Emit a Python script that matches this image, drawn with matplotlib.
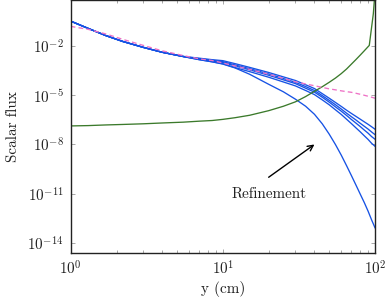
import numpy as np
import matplotlib
matplotlib.use("Agg")
import matplotlib.pyplot as plt

plt.rcParams['mathtext.fontset'] = 'cm'
plt.rcParams['font.family'] = ['cmr10', 'DejaVu Serif']
plt.rcParams['axes.formatter.use_mathtext'] = True

# x positions (cm)
x = [1, 1.3, 1.7, 2.2, 3, 4, 5.5, 7, 8.5, 10, 12, 15, 20, 25, 30, 35, 40, 45, 50, 55, 60,
     65, 70, 75, 80, 85, 90, 95, 100]

# log10 of scalar flux
blue_1 = [-0.48, -0.92, -1.36, -1.72, -2.08, -2.38, -2.64, -2.83, -2.96, -3.10, -3.33, -3.72,
          -4.33, -4.79, -5.24, -5.67, -6.16, -6.74, -7.37, -8.01, -8.65, -9.29, -9.90, -10.48,
          -11.03, -11.54, -12.06, -12.60, -13.08]
blue_2 = [-0.48, -0.92, -1.36, -1.72, -2.08, -2.38, -2.64, -2.83, -2.96, -3.08, -3.31, -3.56,
          -3.90, -4.19, -4.43, -4.71, -4.96, -5.28, -5.58, -5.89, -6.17, -6.46, -6.73, -6.99,
          -7.23, -7.47, -7.69, -7.93, -8.11]
blue_3 = [-0.48, -0.92, -1.36, -1.72, -2.08, -2.38, -2.64, -2.79, -2.91, -3.00, -3.21, -3.45,
          -3.78, -4.06, -4.29, -4.57, -4.81, -5.12, -5.42, -5.71, -5.97, -6.23, -6.48, -6.70,
          -6.91, -7.12, -7.31, -7.52, -7.68]
blue_4 = [-0.48, -0.92, -1.36, -1.72, -2.08, -2.38, -2.64, -2.77, -2.87, -2.95, -3.15, -3.38,
          -3.70, -3.98, -4.21, -4.47, -4.71, -5.02, -5.31, -5.58, -5.84, -6.09, -6.31, -6.51,
          -6.71, -6.89, -7.06, -7.24, -7.40]
blue_5 = [-0.48, -0.92, -1.36, -1.72, -2.08, -2.38, -2.63, -2.74, -2.83, -2.89, -3.07, -3.30,
          -3.61, -3.88, -4.10, -4.36, -4.59, -4.90, -5.18, -5.44, -5.68, -5.91, -6.11, -6.29,
          -6.46, -6.62, -6.77, -6.92, -7.07]
blue_series = [blue_1, blue_2, blue_3, blue_4, blue_5]

pink = [-0.80, -0.98, -1.26, -1.59, -1.96, -2.29, -2.58, -2.78, -2.88, -3.03, -3.21, -3.42,
        -3.72, -3.97, -4.18, -4.31, -4.42, -4.52, -4.61, -4.67, -4.73, -4.78, -4.82, -4.88,
        -4.94, -5.00, -5.06, -5.12, -5.18]

x_green = [1, 1.3, 1.7, 2.2, 3, 4, 5.5, 7, 8.5, 10, 12, 15, 20, 25, 30, 35, 40, 45, 50, 55, 60,
           65, 70, 75, 80, 85, 91.7, 97.5, 100]
green = [-6.87, -6.85, -6.81, -6.78, -6.74, -6.69, -6.64, -6.58, -6.54, -6.47, -6.37, -6.22,
         -5.94, -5.67, -5.40, -5.08, -4.76, -4.48, -4.21, -3.95, -3.68, -3.40, -3.10, -2.82,
         -2.55, -2.29, -1.96, -0.03, 1.3]

BLUE = '#1652e4'
PINK = '#ee72c6'
GREEN = '#3b7a2b'

fig = plt.figure(figsize=(3.9, 3.03), dpi=100)
ax = fig.add_axes([70.7 / 390, 1 - 252.7 / 303, (375 - 70.7) / 390, 252.7 / 303 - 0.001])

for s in blue_series:
    ax.plot(x, 10 ** np.array(s), color=BLUE, lw=0.95)
ax.plot(x_green, 10 ** np.array(green), color=GREEN, lw=0.95)
ax.plot(x, 10 ** np.array(pink), color=PINK, lw=0.95, dashes=(3.6, 2.4))

ax.set_xscale('log')
ax.set_yscale('log')
ax.set_xlim(1, 100)
ax.set_ylim(10 ** -14.6, 10 ** 0.79)

ax.set_yticks([1e-14, 1e-11, 1e-8, 1e-5, 1e-2])
ax.yaxis.set_minor_locator(matplotlib.ticker.NullLocator())
ax.xaxis.set_minor_locator(matplotlib.ticker.LogLocator(base=10, subs=np.arange(2, 10)))

ax.tick_params(which='major', direction='in', length=3, width=0.6, color='#999999',
               top=True, right=True, labelsize=10.9, pad=5, labelcolor='#222222')
ax.tick_params(which='minor', direction='in', length=2, width=0.6, color='#999999',
               top=True, right=True)
for sp in ax.spines.values():
    sp.set_linewidth(1.0)
    sp.set_color('#222222')

ax.set_xlabel('y (cm)', fontsize=10.9, color='#222222', labelpad=2.5)
ax.set_ylabel('Scalar flux', fontsize=10.9, color='#222222', labelpad=5)

ax.annotate('', xy=(40, 1e-8), xytext=(20, 1e-10),
            arrowprops=dict(arrowstyle='->', color='black', lw=1.0, shrinkA=0, shrinkB=0))
ax.text(20, 10 ** -11.03, 'Refinement', ha='center', va='center', fontsize=10.9,
        color='#222222')

fig.savefig('out.png', dpi=100)
